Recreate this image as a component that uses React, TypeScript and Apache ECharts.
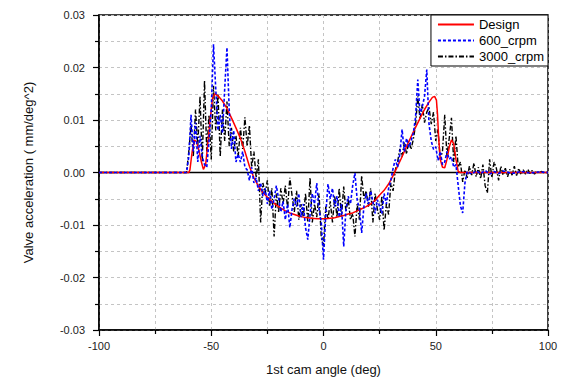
import React, { useEffect, useRef } from "react";
import * as echarts from "echarts";

const legendNames = ["Design", "600_crpm", "3000_crpm"];

const design: [number, number][] = [
  [-100, 0], [-60, 0], [-59.5, 0.0005], [-58.5, 0.004], [-57.5, 0.0062], [-56.5, 0.0058], [-55.5, 0.0042],
  [-54.5, 0.0022], [-53.5, 0.0006], [-52.5, 0.0015], [-51.5, 0.0055], [-50.5, 0.01], [-49.5, 0.014],
  [-48.5, 0.015], [-47, 0.0146], [-45, 0.0136], [-43, 0.0122], [-41, 0.0104], [-39, 0.0085], [-37, 0.0065],
  [-35, 0.004], [-33, 0.0012], [-31, -0.001], [-29, -0.0026], [-27, -0.0038], [-25, -0.0047], [-23, -0.0055],
  [-21, -0.0062], [-19, -0.0068], [-17, -0.0073], [-15, -0.0077], [-13, -0.008], [-11, -0.0083], [-9, -0.0085],
  [-7, -0.0086], [-5, -0.0087], [-3, -0.0088], [-1, -0.0088], [1, -0.0088], [3, -0.0087], [5, -0.0086],
  [7, -0.0084], [9, -0.0082], [11, -0.0079], [13, -0.0077], [15, -0.0073], [17, -0.0069], [19, -0.0065],
  [21, -0.006], [23, -0.0053], [25, -0.0043], [27, -0.0034], [29, -0.0022], [31, -0.0006], [33, 0.0012],
  [35, 0.003], [37, 0.005], [39, 0.0068], [41, 0.0086], [43, 0.0103], [45, 0.012], [47, 0.0134],
  [48.5, 0.0143], [49.5, 0.0145], [50.3, 0.0138], [50.8, 0.011], [51.3, 0.0065], [52, 0.0025], [53, 0.001],
  [54, 0.0009], [55, 0.0025], [56, 0.0048], [57, 0.0062], [58, 0.0055], [59, 0.0025], [60, 0.0002],
  [61, 0], [100, 0],
];

const rpm600: [number, number][] = [
  [-100, 0], [-61, 0], [-60, 0.003], [-59, 0.011], [-58, 0.004], [-57, 0.0095], [-56, 0.002], [-55, 0.007],
  [-54, 0.003], [-53, 0.0015], [-52, 0.001], [-51, 0.006], [-50, 0.012], [-49, 0.0244], [-48, 0.016],
  [-47, 0.008], [-46, 0.011], [-45, 0.0075], [-44, 0.016], [-43, 0.0238], [-42, 0.012], [-41, 0.0045],
  [-40, 0.008], [-39, 0.002], [-38, 0.0035], [-37, 0.002], [-36, 0.004], [-35, 0.001], [-34, 0.0005],
  [-33, -0.0015], [-32, 0.001], [-31, -0.002], [-30, -0.001], [-29, -0.0035], [-28, -0.002], [-27, -0.0045],
  [-26, -0.003], [-25, -0.006], [-24, -0.0035], [-23, -0.007], [-22, -0.005], [-21, -0.0025], [-20, -0.005],
  [-19, -0.0075], [-18, -0.0055], [-17, -0.009], [-16, -0.006], [-15, -0.0105], [-14, -0.007], [-13, -0.005],
  [-12, -0.0065], [-11, -0.004], [-10, -0.0085], [-9, -0.006], [-8, -0.0105], [-7, -0.0128], [-6, -0.008],
  [-5, -0.004], [-4, -0.006], [-3, -0.002], [-2, -0.007], [-1, -0.0095], [0, -0.0166], [1, -0.008],
  [2, -0.0022], [3, -0.005], [4, -0.003], [5, -0.0065], [6, -0.0045], [7, -0.0085], [8, -0.006],
  [9, -0.0141], [10, -0.007], [11, -0.0045], [12, -0.006], [13, -0.0025], [14, -0.0001], [15, -0.0052],
  [16, -0.007], [17, -0.0115], [18, -0.0065], [19, -0.004], [20, -0.006], [21, -0.0035], [22, -0.0055],
  [23, -0.0078], [24, -0.0052], [25, -0.0065], [26, -0.0078], [27, -0.004], [28, -0.006], [29, -0.003],
  [30, -0.0015], [31, 0.0008], [32, 0.0025], [33, 0.001], [34, 0.0035], [35, 0.0082], [36, 0.004],
  [37, 0.0065], [38, 0.0048], [39, 0.006], [40, 0.0075], [41, 0.0105], [42, 0.0177], [43, 0.011],
  [44, 0.0125], [45, 0.0145], [46, 0.0196], [47, 0.0092], [48, 0.006], [49, 0.0044], [50, 0.0049],
  [51, 0.0023], [52, 0.004], [53, 0.0015], [54, 0.002], [55, 0.004], [56, 0.0025], [57, 0.003], [58, 0.001],
  [59, 0.0015], [60, -0.0025], [61, -0.0064], [62, -0.0077], [63, -0.002], [64, 0.0002], [66, -0.0003],
  [68, 0.0003], [70, -0.0002], [72, 0.0004], [74, -0.0003], [76, 0.0002], [78, -0.0002], [80, 0.0003],
  [84, -0.0002], [88, 0.0002], [92, -0.0001], [96, 0.0001], [100, 0],
];

const rpm3000: [number, number][] = [
  [-100, 0], [-61, 0], [-60, 0.004], [-59, 0.009], [-58, 0.003], [-57, 0.012], [-56, 0.005], [-55, 0.0145],
  [-54, 0.002], [-53, 0.0175], [-52, 0.004], [-51, 0.011], [-50, 0.0025], [-49, 0.0165], [-48, 0.008],
  [-47, 0.015], [-46, 0.003], [-45, 0.012], [-44, 0.006], [-43, 0.0135], [-42, 0.005], [-41, 0.0085],
  [-40, 0.004], [-39, 0.007], [-38, 0.003], [-37, 0.0085], [-36, 0.0045], [-35, 0.0105], [-34, 0.005],
  [-33, 0.009], [-32, 0.001], [-31, 0.004], [-30, -0.001], [-29, 0.0025], [-28, -0.0095], [-27, -0.002],
  [-26, -0.004], [-25, -0.0015], [-24, -0.0065], [-23, -0.003], [-22, -0.0122], [-21, -0.004], [-20, -0.0075],
  [-19, -0.003], [-18, -0.006], [-17, -0.0025], [-16, -0.0068], [-15, -0.001], [-14, -0.0044], [-13, -0.0075],
  [-12, -0.0035], [-11, -0.009], [-10, -0.006], [-9, -0.0085], [-8, -0.004], [-7, -0.0095], [-6, -0.001],
  [-5, -0.0095], [-4, -0.006], [-3, -0.0085], [-2, -0.004], [-1, -0.0124], [0, -0.0141], [1, -0.0065],
  [2, -0.009], [3, -0.0055], [4, -0.0095], [5, -0.0045], [6, -0.0085], [7, -0.003], [8, -0.0084],
  [9, -0.0027], [10, -0.0075], [11, -0.005], [12, -0.009], [13, -0.0078], [14, -0.0122], [15, -0.006],
  [16, -0.009], [17, -0.0006], [18, -0.005], [19, -0.0035], [20, -0.0065], [21, -0.003], [22, -0.0095],
  [23, -0.004], [24, -0.007], [25, -0.009], [26, -0.0045], [27, -0.011], [28, -0.006], [29, -0.008],
  [30, -0.002], [31, -0.0035], [32, 0.0005], [33, 0.002], [34, 0.0045], [35, 0.003], [36, 0.0057],
  [37, 0.0035], [38, 0.006], [39, 0.0044], [40, 0.0063], [41, 0.009], [42, 0.0145], [43, 0.0101],
  [44, 0.013], [45, 0.0095], [46, 0.0115], [47, 0.0124], [48, 0.0092], [49, 0.0115], [50, 0.006],
  [51, 0.0082], [52, 0.0025], [53, 0.004], [54, 0.011], [55, 0.003], [56, 0.0065], [57, 0.0104],
  [58, 0.002], [59, 0.007], [60, 0.001], [61, 0.002], [62, -0.0018], [63, 0.0005], [64, -0.001],
  [65, 0.0012], [66, -0.0005], [67, 0.0018], [68, -0.0008], [69, 0.001], [70, -0.0012], [71, 0.0015],
  [72, -0.0025], [73, -0.0039], [74, 0.0025], [75, -0.001], [76, 0.002], [77, 0.0008], [78, -0.0015],
  [79, 0.0012], [80, -0.0005], [81, 0.0008], [82, -0.0008], [83, 0.0006], [84, -0.0005], [85, 0.0012],
  [86, -0.0006], [87, 0.0008], [88, -0.0004], [89, 0.0005], [90, -0.0003], [91, 0.0006], [92, -0.0002],
  [93, 0.0004], [94, -0.0003], [95, 0.0003], [96, -0.0002], [97, 0.0002], [98, 0], [100, 0],
];

const zeroLine: [number, number][] = [[-100, 0], [100, 0]];

const FONT = "'Liberation Sans', Arial, sans-serif";

export default function App() {
  const ref = useRef<HTMLDivElement>(null);
  useEffect(() => {
    if (!ref.current) return;
    const chart = echarts.init(ref.current, null, { renderer: "svg" });
    const grid = { lineStyle: { color: "#c4c4c4", type: [3, 3] as any, width: 1 } };
    chart.setOption({
      animation: false,
      backgroundColor: "#fff",
      textStyle: { fontFamily: FONT },
      grid: { left: 99, right: 14, top: 15, bottom: 53, show: true, borderColor: "#000", borderWidth: 1.5 },
      legend: {
        data: legendNames,
        orient: "vertical",
        right: 14,
        top: 15,
        backgroundColor: "#fff",
        borderColor: "#000",
        borderWidth: 1,
        padding: [3, 4, 3, 6],
        itemGap: 3,
        itemWidth: 36,
        itemHeight: 14,
        itemStyle: { opacity: 0, borderWidth: 0 },
        textStyle: { fontSize: 13, color: "#000", fontFamily: FONT },
      },
      xAxis: {
        type: "value",
        min: -100,
        max: 100,
        interval: 50,
        name: "1st cam angle (deg)",
        nameLocation: "middle",
        nameGap: 33,
        nameTextStyle: { fontSize: 13, color: "#111", fontFamily: FONT },
        axisLine: { onZero: false, lineStyle: { color: "#000", width: 1.5 } },
        axisTick: { length: 6, lineStyle: { color: "#000", width: 1.2 } },
        minorTick: { show: true, splitNumber: 2, length: 4, lineStyle: { color: "#000", width: 1.2 } },
        splitLine: { show: true, ...grid },
        minorSplitLine: { show: true, ...grid },
        axisLabel: { fontSize: 11, color: "#222", margin: 10, fontFamily: FONT },
      },
      yAxis: {
        type: "value",
        min: -0.03,
        max: 0.03,
        interval: 0.01,
        name: "Valve acceleration ( mm/deg^2)",
        nameLocation: "middle",
        nameGap: 64,
        nameTextStyle: { fontSize: 13, color: "#111", fontFamily: FONT },
        axisLine: { onZero: false, lineStyle: { color: "#000", width: 1.5 } },
        axisTick: { length: 6, lineStyle: { color: "#000", width: 1.2 } },
        minorTick: { show: true, splitNumber: 2, length: 4, lineStyle: { color: "#000", width: 1.2 } },
        splitLine: { show: true, ...grid },
        minorSplitLine: { show: true, ...grid },
        axisLabel: {
          fontSize: 11,
          color: "#222",
          margin: 14,
          fontFamily: FONT,
          formatter: (v: number) => (Math.abs(v) < 1e-9 ? "0.00" : v.toFixed(2)),
        },
      },
      series: [
        {
          name: "zero",
          type: "line",
          data: zeroLine,
          symbol: "none",
          silent: true,
          lineStyle: { color: "#000", width: 1.5 },
        },
        {
          name: "3000_crpm",
          type: "line",
          data: rpm3000,
          symbol: "none",
          color: "#000",
          lineStyle: { color: "#000", width: 1.4, type: [5, 2, 1.5, 2] },
        },
        {
          name: "Design",
          type: "line",
          data: design,
          symbol: "none",
          color: "#ff0000",
          lineStyle: { color: "#ff0000", width: 1.5 },
        },
        {
          name: "600_crpm",
          type: "line",
          data: rpm600,
          symbol: "none",
          color: "#0000ff",
          lineStyle: { color: "#0000ff", width: 1.6, type: [3, 2] },
        },
      ],
    });
    return () => chart.dispose();
  }, []);
  return (
    <div
      ref={ref}
      style={{ position: "fixed", left: 0, top: 0, width: 562, height: 383 }}
    />
  );
}
